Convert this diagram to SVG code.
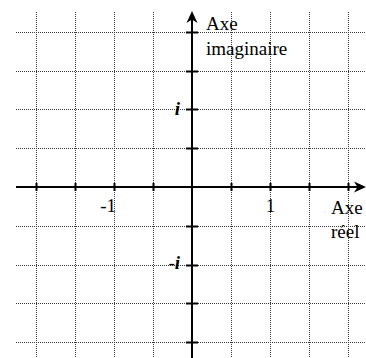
<svg xmlns="http://www.w3.org/2000/svg" width="366" height="358" viewBox="0 0 366 358">
<style>
.grid line{stroke:#3a3a3a;stroke-width:1;stroke-dasharray:1 1;fill:none}
.axis{stroke:#000;stroke-width:2;fill:none}
.tick{stroke:#000;stroke-width:2}
.lbl{font-family:"Liberation Serif","Times New Roman",serif;font-size:19px;fill:#000}
.im{font-family:"Liberation Serif","Times New Roman",serif;font-size:19px;font-style:italic;font-weight:bold;fill:#000}
</style>
<rect width="366" height="358" fill="#fff"/>
<g id="grid" class="grid">
<line x1="36.5" y1="12" x2="36.5" y2="358"/>
<line x1="75.5" y1="12" x2="75.5" y2="358"/>
<line x1="114.5" y1="12" x2="114.5" y2="358"/>
<line x1="153.5" y1="12" x2="153.5" y2="358"/>
<line x1="231.5" y1="12" x2="231.5" y2="358"/>
<line x1="270.5" y1="12" x2="270.5" y2="358"/>
<line x1="309.5" y1="12" x2="309.5" y2="358"/>
<line x1="348.5" y1="12" x2="348.5" y2="358"/>
<line x1="16" y1="32.5" x2="366" y2="32.5"/>
<line x1="16" y1="71.5" x2="366" y2="71.5"/>
<line x1="16" y1="109.5" x2="366" y2="109.5"/>
<line x1="16" y1="148.5" x2="366" y2="148.5"/>
<line x1="16" y1="226.5" x2="366" y2="226.5"/>
<line x1="16" y1="265.5" x2="366" y2="265.5"/>
<line x1="16" y1="303.5" x2="366" y2="303.5"/>
<line x1="16" y1="342.5" x2="366" y2="342.5"/>
</g>
<g id="connectors">
<line id="x-axis" class="axis" x1="16" y1="187" x2="358" y2="187"/>
<path d="M366,187 L354,181.5 L357.5,187 L354,192.5 Z" fill="#000"/>
<line id="y-axis" class="axis" x1="192" y1="358" x2="192" y2="19"/>
<path d="M192,11 L186.5,23 L192,19.5 L197.5,23 Z" fill="#000"/>
<g id="ticks-x" class="tick">
<line x1="36.5" y1="183" x2="36.5" y2="191"/>
<line x1="75.5" y1="183" x2="75.5" y2="191"/>
<line x1="114.5" y1="183" x2="114.5" y2="191"/>
<line x1="153.5" y1="183" x2="153.5" y2="191"/>
<line x1="231.5" y1="183" x2="231.5" y2="191"/>
<line x1="270.5" y1="183" x2="270.5" y2="191"/>
<line x1="309.5" y1="183" x2="309.5" y2="191"/>
<line x1="348.5" y1="183" x2="348.5" y2="191"/>
</g>
<g id="ticks-y" class="tick">
<line x1="186" y1="32.5" x2="198" y2="32.5"/>
<line x1="186" y1="71.5" x2="198" y2="71.5"/>
<line x1="186" y1="109.5" x2="198" y2="109.5"/>
<line x1="186" y1="148.5" x2="198" y2="148.5"/>
<line x1="186" y1="226.5" x2="198" y2="226.5"/>
<line x1="186" y1="265.5" x2="198" y2="265.5"/>
<line x1="186" y1="303.5" x2="198" y2="303.5"/>
<line x1="186" y1="342.5" x2="198" y2="342.5"/>
</g>
</g>
<g id="label-imag-axis">
<text class="lbl" x="206" y="30">Axe</text>
<text class="lbl" x="206" y="55">imaginaire</text>
</g>
<g id="label-real-axis">
<text class="lbl" x="331" y="214">Axe</text>
<text class="lbl" x="331" y="238">réel</text>
</g>
<g id="label-minus1"><text class="lbl" x="116" y="212" text-anchor="end">-1</text></g>
<g id="label-1"><text class="lbl" x="270.5" y="212" text-anchor="middle">1</text></g>
<g id="label-i"><text class="im" x="180" y="115" text-anchor="end">i</text></g>
<g id="label-minus-i"><text class="im" x="180" y="269" text-anchor="end"><tspan style="font-style:normal;font-weight:normal">-</tspan>i</text></g>
</svg>
